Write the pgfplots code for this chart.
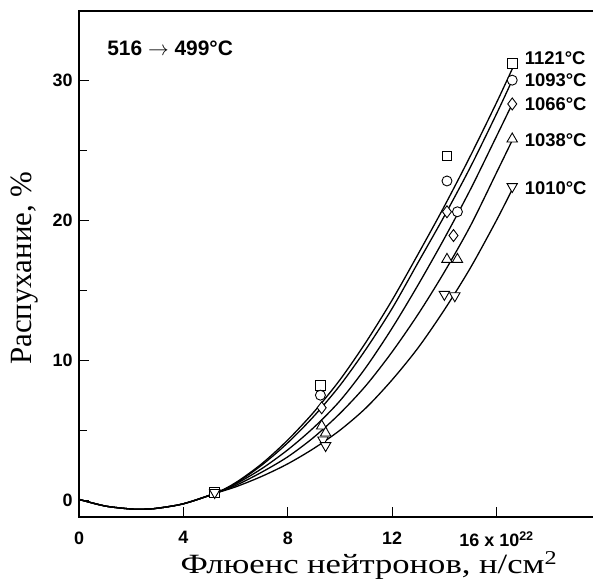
\documentclass[border=0pt]{standalone}
\usepackage{fontspec}
\setmainfont{Liberation Sans}
\newfontfamily\serifcyr{Liberation Serif}
\usepackage{pgfplots}
\pgfplotsset{compat=1.18}
\usetikzlibrary{calc}

\pgfplotstableread{
x y
0 0.06
1 -0.415
2 -0.63
2.5 -0.64
3 -0.575
4 -0.256
5.2 0.48
6 1.25
7 2.6
8 4.3
9 6.3
10 8.6
11 11.3
12 14.3
13 17.6
14 21.0
15 24.6
16 28.4
16.6 30.8
}\cA
\pgfplotstableread{
x y
0 0.06
1 -0.415
2 -0.63
2.5 -0.64
3 -0.575
4 -0.256
5.2 0.48
6 1.2
7 2.5
8 4.1
9 6.0
10 8.2
11 10.8
12 13.7
13 17.0
14 20.3
15 23.8
16 27.6
16.6 30.0
}\cB
\pgfplotstableread{
x y
0 0.06
1 -0.415
2 -0.63
2.5 -0.64
3 -0.575
4 -0.256
5.2 0.48
6 1.15
7 2.25
8 3.6
9 5.2
10 7.1
11 9.5
12 12.3
13 15.4
14 18.7
15 22.2
16 26.0
16.6 28.3
}\cC
\pgfplotstableread{
x y
0 0.06
1 -0.415
2 -0.63
2.5 -0.64
3 -0.575
4 -0.256
5.2 0.48
6 1.05
7 2.0
8 3.1
9 4.5
10 6.2
11 8.2
12 10.6
13 13.3
14 16.3
15 19.6
16 23.4
16.6 25.7
}\cD
\pgfplotstableread{
x y
0 0.06
1 -0.415
2 -0.63
2.5 -0.64
3 -0.575
4 -0.256
5.2 0.48
6 0.95
7 1.7
8 2.6
9 3.7
10 5.0
11 6.6
12 8.6
13 10.9
14 13.6
15 16.6
16 20.0
16.6 22.2
}\cE

\begin{document}
\begin{tikzpicture}
\begin{axis}[name=ax, scale only axis, width=535bp, height=506bp,
  xmin=0, xmax=20.5, ymin=-1.2, ymax=34.94,
  axis line style={line width=1.1bp},
  tick align=inside, tick pos=left,
  xtick={0,4,8,12,16}, xticklabels={0,4,8,12,{16 x 10\textsuperscript{22}}},
  ytick={0,10,20,30}, minor ytick={5,15,25},
  major tick length=10bp, minor tick length=8bp,
  tick style={black, line width=0.8bp},
  ticklabel style={font=\bfseries\fontsize{18}{18}\selectfont},
  xticklabel style={yshift=-11bp},
  yticklabel style={xshift=-3bp},
  /pgf/number format/assume math mode=true,
  xlabel={\scalebox{1.24}[1]{\serifcyr\fontsize{28}{28}\selectfont Флюенс нейтронов, н/см\textsuperscript{2}}},
  xlabel style={at={(axis description cs:0.542,-0.096)}, anchor=center},
  ylabel={\serifcyr\fontsize{31}{31}\selectfont Распухание, \%},
  ylabel style={at={(axis description cs:-0.101,0.492)}, anchor=center},
  every axis plot/.append style={line width=1.3bp, black},
  clip=false]
\addplot[smooth, no marks] table {\cA};
\addplot[smooth, no marks] table {\cB};
\addplot[smooth, no marks] table {\cC};
\addplot[smooth, no marks] table {\cD};
\addplot[smooth, no marks] table {\cE};
% markers
\addplot[only marks, mark=square*, mark size=4.8bp, mark options={fill=white, draw=black, line width=0.9bp}] coordinates {(5.2,0.55) (9.25,8.2) (14.1,24.6) (16.6,31.2)};
\addplot[only marks, mark=*, mark size=5bp, mark options={fill=white, draw=black, line width=0.9bp}] coordinates {(9.25,7.5) (14.1,22.8) (14.5,20.6) (16.6,30.0)};
\addplot[only marks, mark=diamond*, mark size=6bp, mark options={fill=white, draw=black, line width=0.9bp}] coordinates {(9.3,6.6) (14.1,20.6) (14.35,18.9) (16.6,28.3)};
\addplot[only marks, mark=triangle*, mark size=6bp, mark options={fill=white, draw=black, line width=0.9bp}] coordinates {(9.3,5.3) (9.45,4.8) (14.1,17.2) (14.5,17.2) (16.6,25.8)};
\addplot[only marks, mark=triangle*, mark size=6bp, mark options={rotate=180, fill=white, draw=black, line width=0.9bp}] coordinates {(5.2,0.55) (9.35,4.3) (9.45,3.9) (14.0,14.7) (14.4,14.6) (16.6,22.4)};
\node[anchor=west, font=\bfseries\fontsize{18.5}{18.5}\selectfont] at (axis cs:16.95,31.6) {1121°C};
\node[anchor=west, font=\bfseries\fontsize{18.5}{18.5}\selectfont] at (axis cs:16.95,30.0) {1093°C};
\node[anchor=west, font=\bfseries\fontsize{18.5}{18.5}\selectfont] at (axis cs:16.95,28.3) {1066°C};
\node[anchor=west, font=\bfseries\fontsize{18.5}{18.5}\selectfont] at (axis cs:16.95,25.7) {1038°C};
\node[anchor=west, font=\bfseries\fontsize{18.5}{18.5}\selectfont] at (axis cs:16.95,22.3) {1010°C};
\node[anchor=west, font=\bfseries\fontsize{21}{21}\selectfont] at (axis cs:0.95,32.3) {516 $\rightarrow$ 499°C};
\end{axis}
\pgfresetboundingbox
\path[use as bounding box] ($(ax.south west)+(-79bp,-63bp)$) rectangle ($(ax.south west)+(514bp,517bp)$);
\end{tikzpicture}
\end{document}
